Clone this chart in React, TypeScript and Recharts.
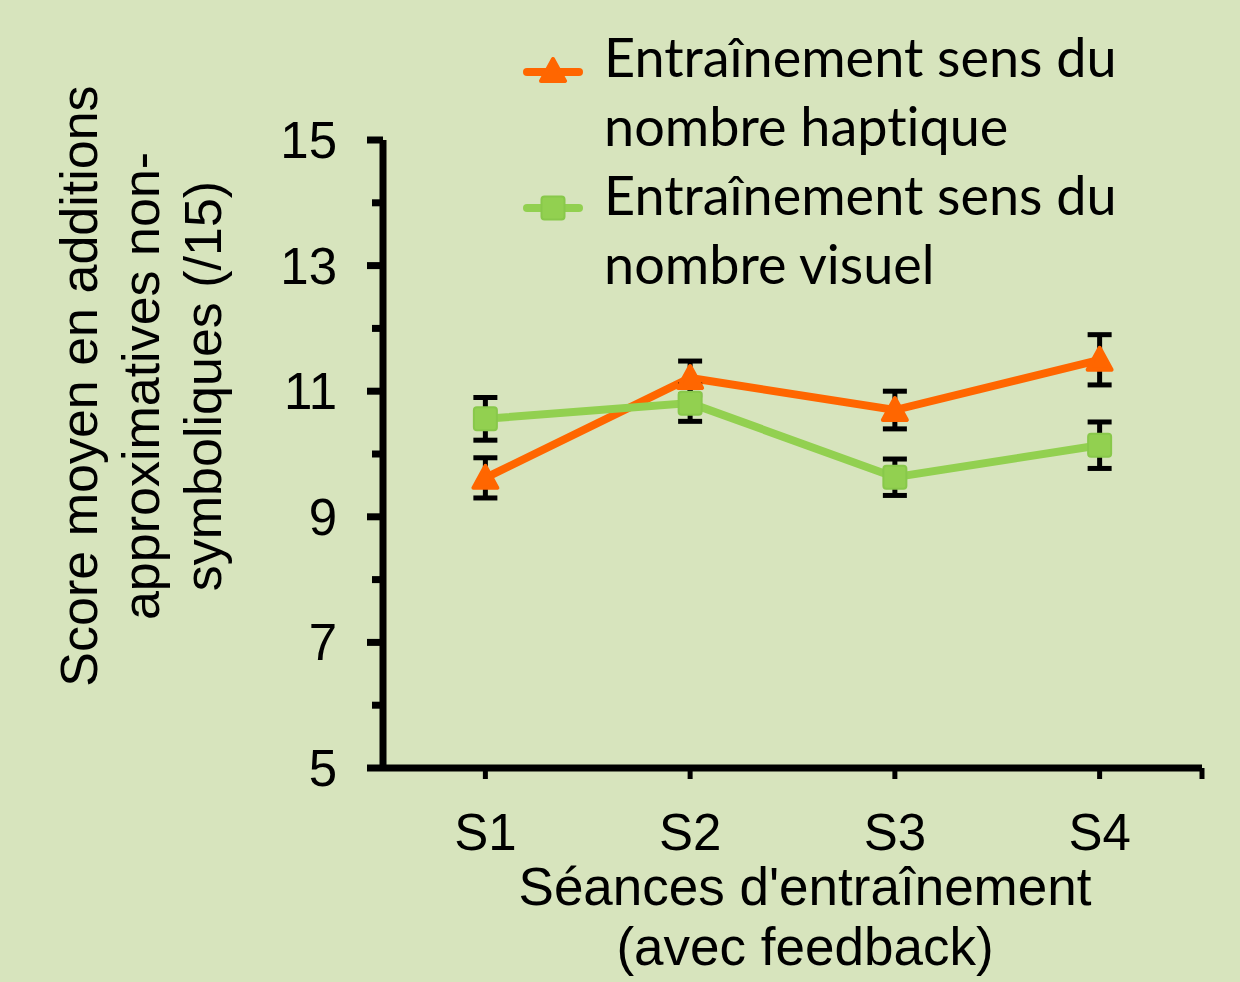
import { LineChart, Line, XAxis, YAxis, ErrorBar, Legend } from "recharts";

const sessions = ["S1", "S2", "S3", "S4"];
const hapticScores = [9.62, 11.21, 10.7, 11.5];
const hapticErrors = [0.32, 0.27, 0.3, 0.4];
const visualScores = [10.56, 10.81, 9.63, 10.14];
const visualErrors = [0.34, 0.29, 0.29, 0.37];
const yTicks = [5, 6, 7, 8, 9, 10, 11, 12, 13, 14, 15];
const xTicks = [1, 2, 3, 4, 4.5];

const hapticName = ["Entraînement sens du", "nombre haptique"];
const visualName = ["Entraînement sens du", "nombre visuel"];

const ORANGE = "#ff6600";
const GREEN = "#92d050";
const BG = "#d7e4bd";
const AXIS_FONT = "'Liberation Sans', Arial, sans-serif";
const LEGEND_FONT = "Lato, 'Noto Sans', sans-serif";

const data = sessions.map((s, i) => ({
    idx: i + 1,
    session: s,
    haptic: hapticScores[i],
    hapticErr: hapticErrors[i],
    visual: visualScores[i],
    visualErr: visualErrors[i],
}));

function TriangleDot(props: any) {
    const { cx, cy } = props;
    if (cx == null || cy == null) return null;
    return (
        <path
            d={`M${cx},${cy - 12} L${cx + 12},${cy + 10} L${cx - 12},${cy + 10} Z`}
            fill={ORANGE}
            stroke={ORANGE}
            strokeWidth={4}
            strokeLinejoin="round"
        />
    );
}

function SquareDot(props: any) {
    const { cx, cy } = props;
    if (cx == null || cy == null) return null;
    return (
        <rect x={cx - 11.5} y={cy - 11.5} width={23} height={23} rx={3} fill={GREEN} stroke="#88c84a" strokeWidth={2} />
    );
}

// y ticks: long marks on odd values (labelled), short ones in between
function YTick({ x, y, payload }: any) {
    const v = payload.value as number;
    const major = v % 2 === 1;
    return (
        <g>
            <line x1={x} x2={x - (major ? 16 : 11)} y1={y} y2={y} stroke="#000" strokeWidth={7} />
            {major && (
                <text x={x - 46} y={y} dy={18} textAnchor="end" fontSize={51} fontFamily={AXIS_FONT} fill="#000">
                    {v}
                </text>
            )}
        </g>
    );
}

function XTick({ x, y, payload }: any) {
    const v = payload.value as number;
    const label = Number.isInteger(v) ? sessions[v - 1] : "";
    return (
        <g>
            <line x1={x} x2={x} y1={y} y2={y + 11} stroke="#000" strokeWidth={5} />
            {label && (
                <text x={x} y={y + 82} textAnchor="middle" fontSize={51} fontFamily={AXIS_FONT} fill="#000">
                    {label}
                </text>
            )}
        </g>
    );
}

function YTitle() {
    const lines = ["Score moyen en additions", "approximatives non-", "symboliques (/15)"];
    const xs = [97, 159, 221];
    return (
        <g>
            {lines.map((l, i) => (
                <text
                    key={l}
                    x={xs[i]}
                    y={386}
                    transform={`rotate(-90 ${xs[i]} 386)`}
                    textAnchor="middle"
                    fontSize={52}
                    fontFamily={AXIS_FONT}
                    fill="#000"
                >
                    {l}
                </text>
            ))}
        </g>
    );
}

function XTitle() {
    return (
        <g>
            <text x={805} y={905} textAnchor="middle" fontSize={53} fontFamily={AXIS_FONT} fill="#000">
                Séances d'entraînement
            </text>
            <text x={805} y={965} textAnchor="middle" fontSize={53} fontFamily={AXIS_FONT} fill="#000">
                (avec feedback)
            </text>
        </g>
    );
}

function LegendIcon({ kind }: { kind: "tri" | "sq" }) {
    return (
        <svg width={64} height={30} style={{ position: "absolute", left: -83, top: 0 }}>
            <line x1={6} x2={58} y1={15} y2={15} stroke={kind === "tri" ? ORANGE : GREEN} strokeWidth={8} strokeLinecap="round" />
            {kind === "tri" ? <TriangleDot cx={32} cy={14} /> : <SquareDot cx={32} cy={15} />}
        </svg>
    );
}

function LegendContent() {
    const items = [
        { lines: hapticName, kind: "tri" as const, top: 22, iconTop: 35 },
        { lines: visualName, kind: "sq" as const, top: 160, iconTop: 33 },
    ];
    return (
        <div style={{ position: "relative", width: 1240, height: 320 }}>
            {items.map((it) => (
                <div
                    key={it.lines[1]}
                    style={{
                        position: "absolute",
                        left: 604,
                        top: it.top,
                        fontFamily: LEGEND_FONT,
                        fontSize: 54,
                        lineHeight: "69px",
                        fontVariantLigatures: "none",
                        color: "#000",
                        whiteSpace: "nowrap",
                    }}
                >
                    <div style={{ position: "absolute", top: it.iconTop, left: 0 }}>
                        <LegendIcon kind={it.kind} />
                    </div>
                    {it.lines[0]}
                    <br />
                    {it.lines[1]}
                </div>
            ))}
        </div>
    );
}

export default function App() {
    return (
        <div style={{ position: "absolute", left: 0, top: 0, width: 1240, height: 982, background: BG }}>
            <LineChart width={1240} height={982} data={data} margin={{ top: 140, right: 38, left: 0, bottom: 0 }}>
                <XAxis
                    type="number"
                    dataKey="idx"
                    domain={[0.5, 4.5]}
                    ticks={xTicks}
                    height={214}
                    tickSize={0}
                    tickMargin={0}
                    tickLine={false}
                    axisLine={{ stroke: "#000", strokeWidth: 7 }}
                    tick={<XTick />}
                    interval={0}
                    label={<XTitle />}
                />
                <YAxis
                    type="number"
                    domain={[5, 15]}
                    ticks={yTicks}
                    width={383}
                    tickSize={0}
                    tickMargin={0}
                    tickLine={false}
                    axisLine={{ stroke: "#000", strokeWidth: 7 }}
                    tick={<YTick />}
                    interval={0}
                    label={<YTitle />}
                />
                <Legend
                    layout="vertical"
                    align="center"
                    verticalAlign="middle"
                    wrapperStyle={{ left: 0, top: 0, width: 1240, height: 320 }}
                    content={<LegendContent />}
                />
                <Line
                    dataKey="haptic"
                    name={hapticName.join(" ")}
                    stroke={ORANGE}
                    strokeWidth={8}
                    dot={<TriangleDot />}
                    activeDot={false}
                    isAnimationActive={false}
                >
                    <ErrorBar dataKey="hapticErr" direction="y" width={12} stroke="#000" strokeWidth={5} />
                </Line>
                <Line
                    dataKey="visual"
                    name={visualName.join(" ")}
                    stroke={GREEN}
                    strokeWidth={8}
                    dot={<SquareDot />}
                    activeDot={false}
                    isAnimationActive={false}
                >
                    <ErrorBar dataKey="visualErr" direction="y" width={12} stroke="#000" strokeWidth={5} />
                </Line>
            </LineChart>
        </div>
    );
}
